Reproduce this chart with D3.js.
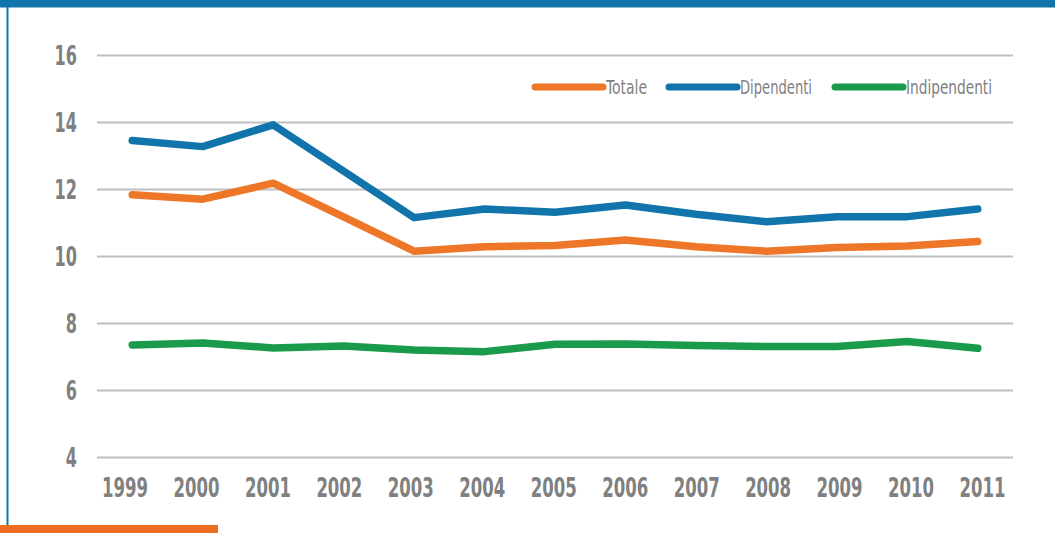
<!DOCTYPE html>
<html>
<head>
<meta charset="utf-8">
<script src="https://cdn.jsdelivr.net/npm/d3@7"></script>
<style>
  body { margin: 0; background: #fff; }
  svg { display: block; }
</style>
</head>
<body>
<script>
var years = ["1999","2000","2001","2002","2003","2004","2005","2006","2007","2008","2009","2010","2011"];
var totale = [11.84, 11.71, 12.19, 11.18, 10.16, 10.29, 10.33, 10.49, 10.29, 10.16, 10.27, 10.31, 10.45];
var dipendenti = [13.46, 13.28, 13.93, 12.55, 11.16, 11.42, 11.32, 11.54, 11.26, 11.04, 11.19, 11.19, 11.42];
var indipendenti = [7.36, 7.42, 7.27, 7.33, 7.21, 7.16, 7.38, 7.39, 7.34, 7.31, 7.31, 7.46, 7.26];
var yTicks = [4, 6, 8, 10, 12, 14, 16];
var seriesNames = ["Totale", "Dipendenti", "Indipendenti"];
var seriesColors = ["#ee7628", "#1175ab", "#1a9a4b"];

var W = 1055, H = 533;
var font = "'DejaVu Sans Condensed', 'DejaVu Sans', sans-serif";
var textColor = "#808080";

var svg = d3.select("body").append("svg")
    .attr("width", W)
    .attr("height", H);

// frame decorations
svg.append("rect").attr("x", 0).attr("y", 0).attr("width", W).attr("height", 7.5).attr("fill", "#1175ab");
svg.append("rect").attr("x", 6.5).attr("y", 0).attr("width", 2).attr("height", 525).attr("fill", "#1175ab");
svg.append("rect").attr("x", 0).attr("y", 525).attr("width", 218).attr("height", 8).attr("fill", "#ee6c24");

var x = d3.scalePoint()
    .domain(years)
    .range([97, 1013])
    .padding(0.5);

// category labels sit on a slightly wider spacing than the points
var xLabel = d3.scalePoint()
    .domain(years)
    .range([125, 982.5]);

var y = d3.scaleLinear()
    .domain([4, 16])
    .range([457.5, 55.5]);

// gridlines
svg.append("g")
    .selectAll("line")
    .data(yTicks)
  .enter().append("line")
    .attr("x1", 97)
    .attr("x2", 1013)
    .attr("y1", function(d) { return y(d); })
    .attr("y2", function(d) { return y(d); })
    .attr("stroke", "#bfbfbf")
    .attr("stroke-width", 2);

// y axis labels (condensed to match narrow face)
svg.append("g")
    .selectAll("text")
    .data(yTicks)
  .enter().append("text")
    .attr("x", 77)
    .attr("y", function(d) { return y(d); })
    .attr("dy", "0.36em")
    .attr("text-anchor", "end")
    .attr("font-family", font)
    .attr("font-weight", "bold")
    .attr("font-size", "27px")
    .attr("fill", textColor)
    .attr("textLength", function(d) { return String(d).length * 11.2; })
    .attr("lengthAdjust", "spacingAndGlyphs")
    .text(function(d) { return d; });

// x axis labels
svg.append("g")
    .selectAll("text")
    .data(years)
  .enter().append("text")
    .attr("x", function(d) { return xLabel(d); })
    .attr("y", 497)
    .attr("text-anchor", "middle")
    .attr("font-family", font)
    .attr("font-weight", "bold")
    .attr("font-size", "27px")
    .attr("fill", textColor)
    .attr("textLength", 46)
    .attr("lengthAdjust", "spacingAndGlyphs")
    .text(function(d) { return d; });

// lines
var line = d3.line()
    .x(function(d, i) { return x(years[i]); })
    .y(function(d) { return y(d); });

var allSeries = [totale, dipendenti, indipendenti];
var drawOrder = [2, 0, 1];
drawOrder.forEach(function(k) {
  svg.append("path")
      .datum(allSeries[k])
      .attr("d", line)
      .attr("fill", "none")
      .attr("stroke", seriesColors[k])
      .attr("stroke-width", 7.5)
      .attr("stroke-linecap", "round")
      .attr("stroke-linejoin", "round");
});

// legend
var legendX = [535, 669, 835];
var legendW = [41, 72, 86];
var legend = svg.selectAll(".legend")
    .data(seriesNames)
  .enter().append("g")
    .attr("class", "legend")
    .attr("transform", function(d, i) { return "translate(" + legendX[i] + ",87)"; });

legend.append("line")
    .attr("x1", 0)
    .attr("x2", 68)
    .attr("stroke", function(d, i) { return seriesColors[i]; })
    .attr("stroke-width", 7)
    .attr("stroke-linecap", "round");

legend.append("text")
    .attr("x", 71)
    .attr("dy", "0.36em")
    .attr("font-family", font)
    .attr("font-size", "20px")
    .attr("fill", textColor)
    .attr("textLength", function(d, i) { return legendW[i]; })
    .attr("lengthAdjust", "spacingAndGlyphs")
    .text(function(d) { return d; });
</script>
</body>
</html>
